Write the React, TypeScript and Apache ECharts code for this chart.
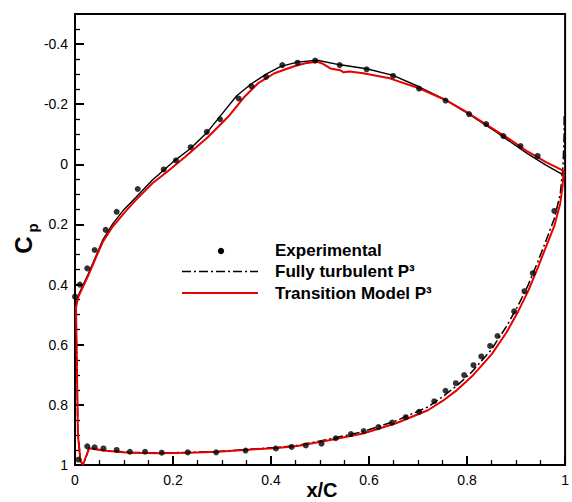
import React, { useEffect, useRef } from "react";
import * as echarts from "echarts";

const xTicks = [0, 0.2, 0.4, 0.6, 0.8, 1];
const cpTicks = [-0.4, -0.2, 0, 0.2, 0.4, 0.6, 0.8, 1];
const cpMinorTicks = [
  -0.45, -0.35, -0.3, -0.25, -0.15, -0.1, -0.05, 0.05, 0.1, 0.15, 0.25, 0.3, 0.35,
  0.45, 0.5, 0.55, 0.65, 0.7, 0.75, 0.85, 0.9, 0.95,
];

const experimentalUpper: [number, number][] = [
  [0.0, 0.44], [0.01, 0.4], [0.025, 0.346], [0.04, 0.285], [0.0625, 0.218],
  [0.085, 0.158], [0.128, 0.082], [0.181, 0.017], [0.206, -0.013], [0.236, -0.057],
  [0.269, -0.108], [0.296, -0.15], [0.334, -0.219], [0.36, -0.26], [0.39, -0.291],
  [0.423, -0.33], [0.454, -0.338], [0.49, -0.345], [0.54, -0.33], [0.595, -0.316],
  [0.649, -0.294], [0.702, -0.252], [0.756, -0.212], [0.804, -0.167], [0.839, -0.134],
  [0.874, -0.094], [0.909, -0.061], [0.944, -0.028],
];

const experimentalLower: [number, number][] = [
  [0.007, 0.982], [0.025, 0.938], [0.04, 0.941], [0.058, 0.945], [0.085, 0.95],
  [0.112, 0.956], [0.143, 0.956], [0.177, 0.959], [0.23, 0.958], [0.288, 0.958],
  [0.348, 0.952], [0.41, 0.945], [0.442, 0.94], [0.471, 0.935], [0.503, 0.929],
  [0.532, 0.911], [0.563, 0.897], [0.589, 0.887], [0.619, 0.874], [0.647, 0.859],
  [0.675, 0.841], [0.702, 0.823], [0.733, 0.788], [0.756, 0.753], [0.777, 0.728],
  [0.794, 0.701], [0.813, 0.668], [0.829, 0.639], [0.847, 0.604], [0.862, 0.571],
  [0.896, 0.489], [0.917, 0.422], [0.934, 0.362], [0.978, 0.155],
];

// Transition model: upper surface from trailing edge to leading edge
const transitionUpper: [number, number][] = [
  [0.997, 0.022], [0.96, -0.008], [0.924, -0.042], [0.89, -0.08], [0.857, -0.114],
  [0.803, -0.17], [0.756, -0.214], [0.702, -0.253], [0.642, -0.286], [0.588, -0.303],
  [0.56, -0.309], [0.548, -0.306], [0.541, -0.313], [0.521, -0.319], [0.505, -0.335],
  [0.494, -0.341], [0.47, -0.336], [0.447, -0.326], [0.407, -0.303], [0.373, -0.269],
  [0.346, -0.225], [0.3125, -0.158], [0.272, -0.092], [0.225, -0.025], [0.19, 0.022],
  [0.158, 0.063], [0.124, 0.119], [0.104, 0.155], [0.077, 0.207], [0.057, 0.257],
  [0.044, 0.305], [0.027, 0.37], [0.017, 0.405], [0.007, 0.44], [0.002, 0.475],
];

// Transition model: lower surface from leading edge to trailing edge
const transitionLower: [number, number][] = [
  [0.006, 0.9], [0.011, 0.985], [0.016, 1.0], [0.029, 0.944], [0.057, 0.952],
  [0.111, 0.959], [0.171, 0.961], [0.232, 0.959], [0.292, 0.956], [0.353, 0.949],
  [0.407, 0.944], [0.454, 0.937], [0.521, 0.917], [0.588, 0.895], [0.655, 0.861],
  [0.72, 0.818], [0.75, 0.787], [0.78, 0.75], [0.81, 0.705], [0.85, 0.632],
  [0.88, 0.56], [0.904, 0.49], [0.925, 0.42], [0.944, 0.345], [0.962, 0.27],
  [0.978, 0.205], [0.99, 0.13], [0.995, 0.07], [0.997, 0.022],
];

// Fully turbulent: upper surface from trailing edge to leading edge
const turbulentUpper: [number, number][] = [
  [0.997, 0.036], [0.96, 0.002], [0.924, -0.035], [0.857, -0.11], [0.803, -0.168],
  [0.756, -0.214], [0.702, -0.258], [0.649, -0.296], [0.595, -0.318], [0.541, -0.331],
  [0.494, -0.346], [0.454, -0.34], [0.42, -0.326], [0.39, -0.3], [0.36, -0.268],
  [0.33, -0.228], [0.3, -0.168], [0.27, -0.107], [0.235, -0.052], [0.2, -0.008],
  [0.158, 0.052], [0.124, 0.11], [0.1, 0.15], [0.077, 0.198], [0.057, 0.25],
  [0.044, 0.3], [0.027, 0.365], [0.017, 0.4], [0.007, 0.435], [0.002, 0.47],
];

// Fully turbulent: lower surface from leading edge to trailing edge
const turbulentLower: [number, number][] = [
  [0.002, 0.47], [0.006, 0.9], [0.012, 0.99], [0.017, 1.0], [0.029, 0.942],
  [0.057, 0.951], [0.111, 0.958], [0.171, 0.96], [0.232, 0.958], [0.292, 0.955],
  [0.353, 0.948], [0.407, 0.942], [0.454, 0.935], [0.521, 0.913], [0.588, 0.889],
  [0.655, 0.853], [0.72, 0.807], [0.75, 0.773], [0.78, 0.735], [0.81, 0.69],
  [0.85, 0.615], [0.88, 0.54], [0.904, 0.47], [0.925, 0.4], [0.944, 0.325],
  [0.962, 0.25], [0.978, 0.18], [0.99, 0.1], [0.996, 0.0], [0.998, -0.1], [0.998, -0.16],
];

const FONT = "'Liberation Sans', Arial, Helvetica, sans-serif";

export default function App() {
  const ref = useRef<HTMLDivElement>(null);

  useEffect(() => {
    if (!ref.current) return;
    const chart = echarts.init(ref.current, undefined, { renderer: "svg" });
    const red = "#e60000";
    const axisLineStyle = { color: "#000", width: 2 };
    chart.setOption({
      animation: false,
      backgroundColor: "#fff",
      grid: {
        left: 75,
        top: 14,
        right: 1,
        bottom: 37,
        show: true,
        borderColor: "#000",
        borderWidth: 2,
      },
      xAxis: {
        type: "value",
        min: 0,
        max: 1,
        interval: 0.2,
        axisLine: { show: true, onZero: false, lineStyle: axisLineStyle },
        axisTick: { show: true, inside: true, length: 9, lineStyle: { color: "#000", width: 2 } },
        minorTick: { show: true, splitNumber: 4, length: 5, lineStyle: { color: "#000", width: 1.3 } },
        splitLine: { show: false },
        minorSplitLine: { show: false },
        axisLabel: {
          color: "#000",
          fontSize: 14,
          fontFamily: FONT,
          margin: 8,
          customValues: xTicks,
        },
      },
      yAxis: [
        {
          type: "value",
          inverse: true,
          min: -0.5,
          max: 1,
          axisLine: { show: true, onZero: false, lineStyle: axisLineStyle },
          axisTick: {
            show: true,
            inside: true,
            length: 9,
            customValues: cpTicks,
            lineStyle: { color: "#000", width: 2 },
          },
          splitLine: { show: false },
          axisLabel: {
            color: "#000",
            fontSize: 14,
            fontFamily: FONT,
            margin: 7,
            customValues: cpTicks,
          },
        },
        {
          type: "value",
          inverse: true,
          min: -0.5,
          max: 1,
          position: "left",
          axisLine: { show: true, onZero: false, lineStyle: axisLineStyle },
          axisTick: {
            show: true,
            inside: true,
            length: 5,
            customValues: cpMinorTicks,
            lineStyle: { color: "#000", width: 1.3 },
          },
          splitLine: { show: false },
          axisLabel: { show: false },
        },
      ],
      series: [
        {
          name: "Fully turbulent P³ upper",
          type: "line",
          data: turbulentUpper,
          showSymbol: false,
          symbol: "none",
          lineStyle: { color: "#000", width: 1.4 },
          z: 2,
        },
        {
          name: "Fully turbulent P³ lower",
          type: "line",
          data: turbulentLower,
          showSymbol: false,
          symbol: "none",
          lineStyle: { color: "#000", width: 1.5, type: [9, 3, 2, 3] },
          z: 2,
        },
        {
          name: "Transition Model P³",
          type: "line",
          data: [...transitionUpper, ...transitionLower],
          showSymbol: false,
          symbol: "none",
          lineStyle: { color: red, width: 2 },
          z: 3,
        },
        {
          name: "Experimental",
          type: "scatter",
          data: [...experimentalUpper, ...experimentalLower],
          symbol: "circle",
          symbolSize: 6,
          itemStyle: { color: "#000" },
          z: 4,
        },
      ],
      graphic: [
        {
          type: "circle",
          shape: { cx: 221, cy: 251, r: 3.2 },
          style: { fill: "#000" },
        },
        {
          type: "line",
          shape: { x1: 182, y1: 271.5, x2: 258, y2: 271.5 },
          style: { stroke: "#000", lineWidth: 1.5, lineDash: [9, 3, 2, 3] },
        },
        {
          type: "line",
          shape: { x1: 182, y1: 293, x2: 258, y2: 293 },
          style: { stroke: red, lineWidth: 2 },
        },
        {
          type: "text",
          x: 275,
          y: 250,
          style: {
            text: "Experimental",
            fill: "#000",
            font: `bold 17px ${FONT}`,
            verticalAlign: "middle",
          },
        },
        {
          type: "text",
          x: 275,
          y: 271.5,
          style: {
            text: "Fully turbulent P³",
            fill: "#000",
            font: `bold 17px ${FONT}`,
            verticalAlign: "middle",
          },
        },
        {
          type: "text",
          x: 275,
          y: 293,
          style: {
            text: "Transition Model P³",
            fill: "#000",
            font: `bold 17px ${FONT}`,
            verticalAlign: "middle",
          },
        },
        {
          type: "text",
          x: 23,
          y: 245,
          rotation: Math.PI / 2,
          style: {
            text: "C",
            fill: "#000",
            font: `bold 24px ${FONT}`,
            align: "center",
            verticalAlign: "middle",
          },
        },
        {
          type: "text",
          x: 32,
          y: 228,
          rotation: Math.PI / 2,
          style: {
            text: "p",
            fill: "#000",
            font: `bold 15px ${FONT}`,
            align: "center",
            verticalAlign: "middle",
          },
        },
        {
          type: "text",
          x: 322,
          y: 490,
          style: {
            text: "x/C",
            fill: "#000",
            font: `bold 20px ${FONT}`,
            align: "center",
            verticalAlign: "middle",
          },
        },
      ],
    });
    return () => chart.dispose();
  }, []);

  return (
    <div
      ref={ref}
      style={{ position: "absolute", left: 0, top: 0, width: 572, height: 502, background: "#fff" }}
    />
  );
}
